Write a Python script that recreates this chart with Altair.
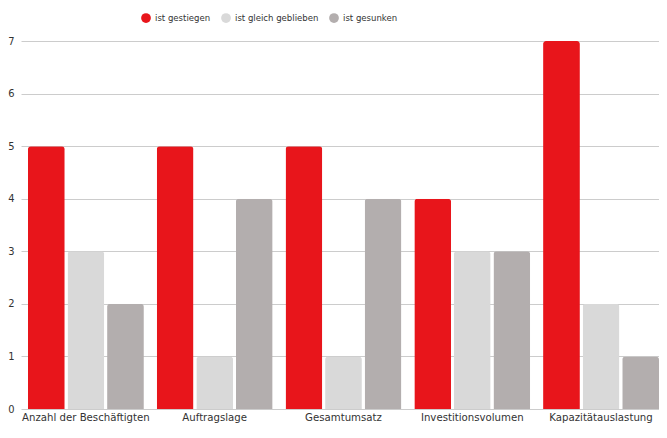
import altair as alt
import pandas as pd

categories = ["Anzahl der Beschäftigten", "Auftragslage", "Gesamtumsatz",
              "Investitionsvolumen", "Kapazitätauslastung"]
series = ["ist gestiegen", "ist gleich geblieben", "ist gesunken"]
gestiegen = [5, 5, 5, 4, 7]
gleich = [3, 1, 1, 3, 2]
gesunken = [2, 4, 4, 3, 1]
colors = ["#E8151B", "#D9D9D9", "#B3AEAE"]

rows = []
for i, c in enumerate(categories):
    for s, vals in zip(series, [gestiegen, gleich, gesunken]):
        rows.append({"Kategorie": c, "Serie": s, "Wert": vals[i]})
df = pd.DataFrame(rows)

FONT = "'DejaVu Sans Condensed', Roboto, sans-serif"

chart = alt.Chart(df).mark_bar(
    cornerRadiusTopLeft=3, cornerRadiusTopRight=3
).encode(
    x=alt.X("Kategorie:N", sort=categories, title=None,
            scale=alt.Scale(paddingInner=0.1, paddingOuter=0.027, align=1),
            axis=alt.Axis(labelAngle=0, domain=False, ticks=False, labelPadding=2,
                          labelFontSize=11.3, labelColor="#333333", labelFont=FONT)),
    xOffset=alt.XOffset("Serie:N", sort=series,
                        scale=alt.Scale(paddingInner=0.07)),
    y=alt.Y("Wert:Q", title=None,
            scale=alt.Scale(domain=[0, 7]),
            axis=alt.Axis(values=list(range(8)), domain=False, ticks=False,
                          labelPadding=7, gridColor="#CCCCCC",
                          labelFontSize=11, labelColor="#333333", labelFont=FONT)),
    color=alt.Color("Serie:N", sort=series,
                    scale=alt.Scale(domain=series, range=colors),
                    legend=alt.Legend(title=None, orient="none", direction="horizontal",
                                      legendX=120, legendY=-28,
                                      symbolType="circle", symbolSize=95,
                                      symbolStrokeWidth=0,
                                      labelFontSize=9.5, labelColor="#333333",
                                      labelFont=FONT, columnPadding=10,
                                      labelOffset=4)),
).properties(
    width=638, height=368,
    autosize=alt.AutoSizeParams(type="none"),
    padding={"left": 13, "right": 0, "top": 33, "bottom": 17},
).configure_view(
    stroke=None
)

chart.save("out.html", embed_options={"renderer": "svg", "actions": False})
